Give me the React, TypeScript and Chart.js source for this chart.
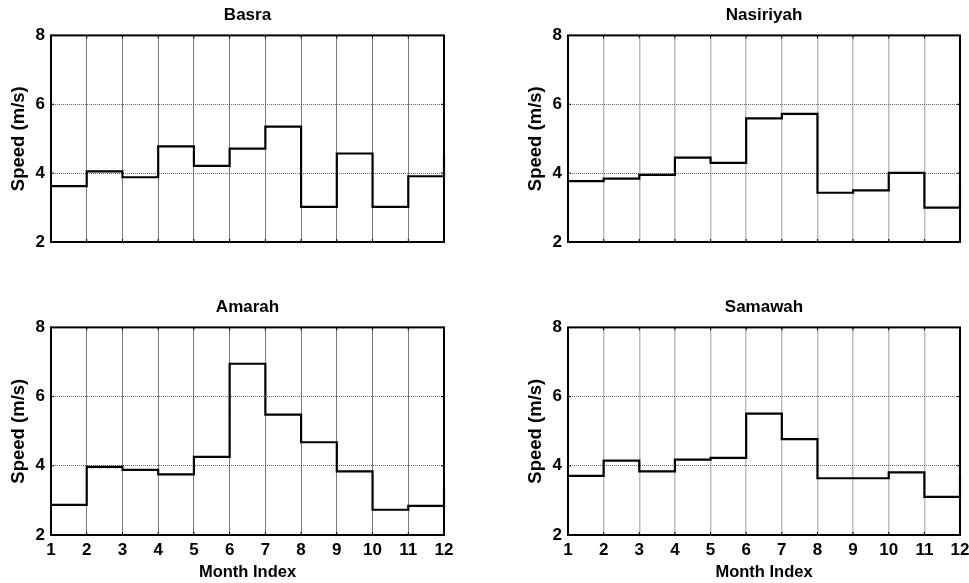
import React, { useEffect, useRef } from "react";
import { Chart, registerables } from "chart.js";

Chart.register(...registerables);

const MONTHS = [1, 2, 3, 4, 5, 6, 7, 8, 9, 10, 11, 12];
const Y_TICKS = [2, 4, 6, 8];
const BASRA = [3.62, 4.05, 3.88, 4.78, 4.21, 4.71, 5.35, 3.02, 4.57, 3.02, 3.91, 4.53];
const NASIRIYAH = [3.77, 3.84, 3.95, 4.45, 4.3, 5.59, 5.72, 3.43, 3.5, 4.01, 3.0, 3.69];
const AMARAH = [2.87, 3.97, 3.88, 3.75, 4.26, 6.95, 5.48, 4.68, 3.84, 2.73, 2.84, 3.38];
const SAMAWAH = [3.71, 4.15, 3.84, 4.18, 4.23, 5.51, 4.77, 3.64, 3.64, 3.81, 3.1, 3.73];

const FONT = 'Arial, "Liberation Sans", Helvetica, sans-serif';

const boxPlugin = {
  id: "matlabBox",
  afterDraw(chart: any) {
    const { ctx, chartArea: a, scales } = chart;
    ctx.save();
    ctx.strokeStyle = "#000";
    ctx.lineWidth = 1;
    const tl = 3;
    MONTHS.forEach((m) => {
      const x = scales.x.getPixelForValue(m);
      ctx.beginPath();
      ctx.moveTo(x, a.bottom);
      ctx.lineTo(x, a.bottom - tl);
      ctx.moveTo(x, a.top);
      ctx.lineTo(x, a.top + tl);
      ctx.stroke();
    });
    Y_TICKS.forEach((v) => {
      const y = scales.y.getPixelForValue(v);
      ctx.beginPath();
      ctx.moveTo(a.left, y);
      ctx.lineTo(a.left + tl, y);
      ctx.moveTo(a.right, y);
      ctx.lineTo(a.right - tl, y);
      ctx.stroke();
    });
    ctx.lineWidth = 2;
    ctx.strokeRect(a.left, a.top, a.right - a.left, a.bottom - a.top);
    ctx.restore();
  },
};

type PanelProps = {
  title: string;
  values: number[];
  showX: boolean;
  left: number;
  top: number;
  width: number;
  height: number;
  padRight: number;
  gridColor: string;
  gridWidth: number;
};

function Panel(p: PanelProps) {
  const ref = useRef<HTMLCanvasElement | null>(null);
  useEffect(() => {
    if (!ref.current) return;
    const chart = new Chart(ref.current, {
      type: "line",
      data: {
        datasets: [
          {
            data: MONTHS.map((m, i) => ({ x: m, y: p.values[i] })),
            stepped: "before",
            borderColor: "#000",
            borderWidth: 2.2,
            pointRadius: 0,
            fill: false,
            clip: 4,
          },
        ],
      },
      options: {
        animation: false,
        responsive: false,
        devicePixelRatio: 1,
        layout: { padding: { left: 0, right: p.padRight, top: 0, bottom: 0 } },
        plugins: {
          legend: { display: false },
          tooltip: { enabled: false },
          title: {
            display: true,
            text: p.title,
            fullSize: false,
            color: "#000",
            font: { family: FONT, size: 17, weight: "bold" },
            padding: { top: 5, bottom: 10 },
          },
        },
        scales: {
          x: {
            type: "linear",
            min: 1,
            max: 12,
            afterFit: (s: any) => {
              s.height = 48;
            },
            ticks: {
              display: p.showX,
              stepSize: 1,
              autoSkip: false,
              maxRotation: 0,
              color: "#000",
              padding: 5,
              font: { family: FONT, size: 17, weight: "bold" },
            },
            grid: { color: p.gridColor, lineWidth: p.gridWidth, drawTicks: false },
            border: { display: false },
            title: {
              display: p.showX,
              text: "Month Index",
              color: "#000",
              font: { family: FONT, size: 16.5, weight: "bold" },
              padding: { top: 0, bottom: 1 },
            },
          },
          y: {
            type: "linear",
            min: 2,
            max: 8,
            afterFit: (s: any) => {
              s.width = 51;
            },
            ticks: {
              stepSize: 2,
              color: "#000",
              padding: 6,
              font: { family: FONT, size: 17, weight: "bold" },
            },
            grid: { color: "#666", lineWidth: 1, drawTicks: false },
            border: { display: false, dash: [1, 1] },
            title: {
              display: true,
              text: "Speed (m/s)",
              color: "#000",
              font: { family: FONT, size: 18.5, weight: "bold" },
              padding: { top: 8, bottom: 0 },
            },
          },
        },
      },
      plugins: [boxPlugin],
    } as any);
    return () => chart.destroy();
  }, []);
  return (
    <canvas
      ref={ref}
      width={p.width}
      height={p.height}
      style={{ position: "absolute", left: p.left, top: p.top, width: p.width, height: p.height }}
    />
  );
}

export default function App() {
  return (
    <div
      style={{
        position: "fixed",
        left: 0,
        top: 0,
        width: 969,
        height: 583,
        background: "#fff",
        overflow: "hidden",
      }}
    >
      <Panel title="Basra" values={BASRA} showX={false} left={0} top={0} width={460} height={290} padRight={16} gridColor="#7a7a7a" gridWidth={1} />
      <Panel title="Nasiriyah" values={NASIRIYAH} showX={false} left={517} top={0} width={460} height={290} padRight={17} gridColor="#bdbdbd" gridWidth={1.5} />
      <Panel title="Amarah" values={AMARAH} showX={true} left={0} top={292} width={460} height={291} padRight={16} gridColor="#7a7a7a" gridWidth={1} />
      <Panel title="Samawah" values={SAMAWAH} showX={true} left={517} top={292} width={460} height={291} padRight={17} gridColor="#bdbdbd" gridWidth={1.5} />
    </div>
  );
}
